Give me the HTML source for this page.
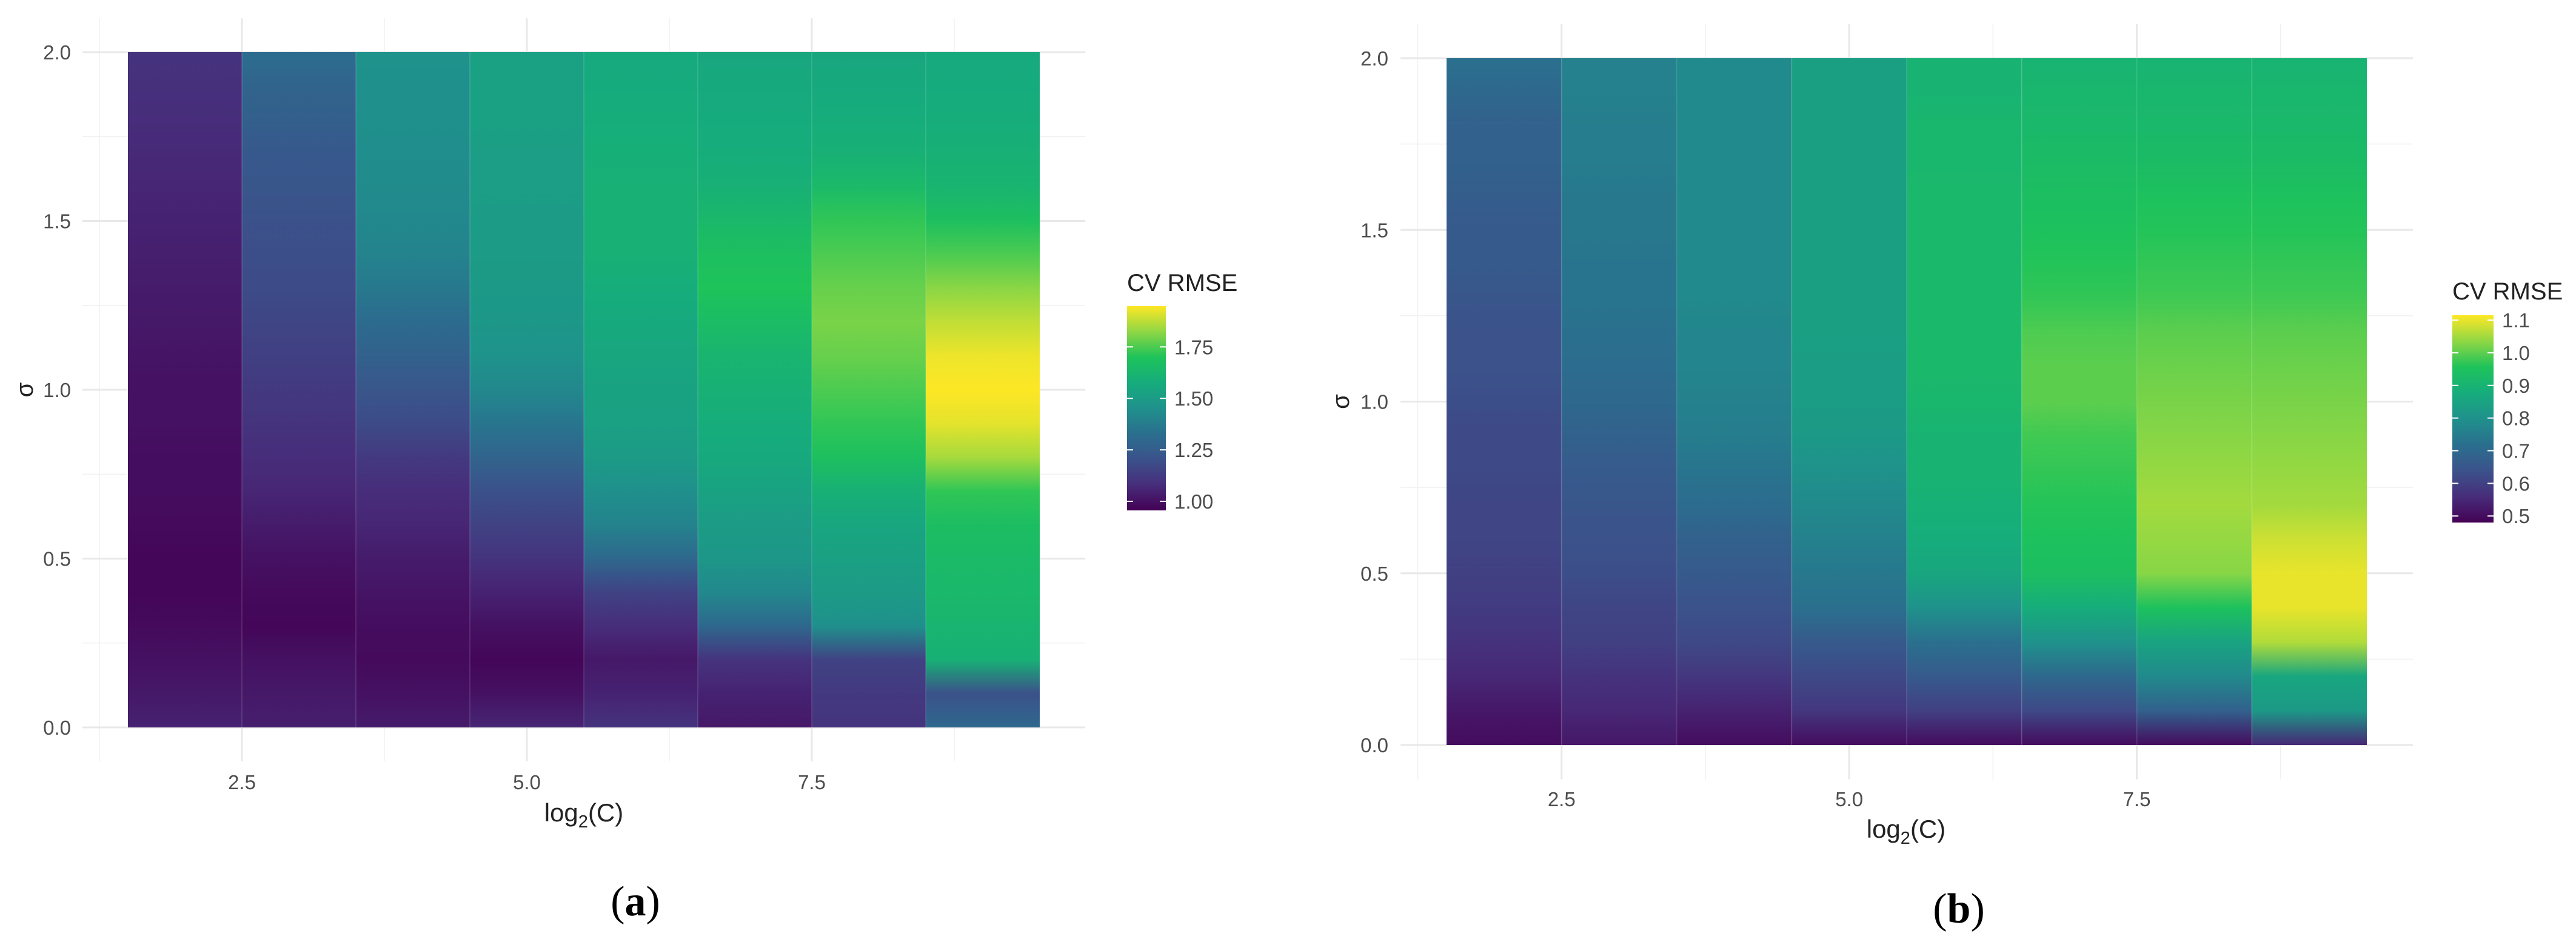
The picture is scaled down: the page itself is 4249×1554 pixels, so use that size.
<!DOCTYPE html>
<html><head><meta charset="utf-8">
<style>
html,body{margin:0;padding:0;background:#fff;}
svg{display:block;}
text{font-family:"Liberation Sans",sans-serif;}
</style></head>
<body>
<svg id="fig" width="4249" height="1554" viewBox="0 0 4249 1554" xmlns="http://www.w3.org/2000/svg"></svg>
<script>
// ---------- data ----------
const log2C = [2,3,4,5,6,7,8,9];
const sigmaGrid = [0,0.1,0.2,0.3,0.4,0.5,0.6,0.7,0.8,0.9,1.0,1.1,1.2,1.3,1.4,1.5,1.6,1.7,1.8,1.9,2.0];
const xTicks = [2.5,5.0,7.5];
const xTickLabels = ["2.5","5.0","7.5"];
const yTicks = [0,0.5,1.0,1.5,2.0];
const yTickLabels = ["0.0","0.5","1.0","1.5","2.0"];
// panel (a): CV RMSE per log2(C) column, sigma 0 -> 2
const rmseA = [
 [1.05,1.02,1.0,0.98,0.97,0.97,0.98,0.99,0.99,1.0,1.0,1.01,1.02,1.03,1.04,1.05,1.06,1.07,1.08,1.09,1.10],
 [1.04,1.02,1.0,0.97,0.98,1.0,1.03,1.06,1.08,1.1,1.12,1.14,1.16,1.18,1.19,1.2,1.22,1.23,1.26,1.28,1.32],
 [1.03,1.0,0.98,0.99,1.01,1.03,1.06,1.08,1.12,1.18,1.22,1.27,1.31,1.36,1.4,1.42,1.43,1.44,1.45,1.45,1.46],
 [1.06,1.0,0.97,1.0,1.05,1.1,1.15,1.2,1.28,1.35,1.42,1.46,1.48,1.49,1.5,1.5,1.51,1.51,1.52,1.52,1.52],
 [1.1,1.05,1.02,1.08,1.15,1.3,1.4,1.45,1.5,1.52,1.53,1.55,1.56,1.58,1.6,1.6,1.6,1.59,1.58,1.57,1.56],
 [1.02,1.05,1.1,1.3,1.42,1.48,1.5,1.53,1.56,1.58,1.6,1.62,1.66,1.7,1.68,1.64,1.6,1.58,1.57,1.56,1.55],
 [1.1,1.12,1.15,1.45,1.5,1.52,1.55,1.6,1.68,1.72,1.75,1.78,1.8,1.78,1.75,1.72,1.65,1.6,1.58,1.56,1.55],
 [1.3,1.2,1.6,1.62,1.64,1.65,1.67,1.72,1.85,1.92,1.95,1.93,1.88,1.82,1.75,1.68,1.62,1.6,1.58,1.57,1.56]
];
const legendA = [1.00,1.25,1.50,1.75];
const legendALabels = ["1.00","1.25","1.50","1.75"];
const rangeA = [0.956,1.948];
// panel (b)
const rmseB = [
 [0.5,0.52,0.55,0.57,0.59,0.6,0.61,0.61,0.62,0.62,0.63,0.64,0.64,0.65,0.66,0.66,0.67,0.68,0.68,0.7,0.72],
 [0.52,0.55,0.57,0.6,0.61,0.63,0.64,0.65,0.66,0.68,0.7,0.71,0.72,0.73,0.73,0.74,0.74,0.75,0.75,0.76,0.76],
 [0.5,0.54,0.58,0.62,0.64,0.66,0.68,0.71,0.73,0.75,0.76,0.77,0.77,0.78,0.78,0.78,0.78,0.78,0.78,0.78,0.78],
 [0.5,0.58,0.62,0.66,0.72,0.74,0.76,0.78,0.8,0.82,0.83,0.83,0.84,0.84,0.84,0.84,0.84,0.84,0.84,0.84,0.84],
 [0.5,0.6,0.66,0.72,0.8,0.86,0.88,0.89,0.9,0.9,0.91,0.92,0.92,0.92,0.92,0.92,0.92,0.91,0.91,0.9,0.9],
 [0.5,0.62,0.7,0.8,0.88,0.94,0.95,0.96,0.97,0.98,1.0,1.0,0.99,0.97,0.96,0.95,0.94,0.93,0.92,0.91,0.9],
 [0.5,0.68,0.78,0.85,0.95,1.03,1.04,1.05,1.04,1.03,1.02,1.01,1.0,0.98,0.97,0.96,0.95,0.93,0.92,0.91,0.9],
 [0.55,0.82,0.86,1.06,1.1,1.1,1.08,1.05,1.04,1.03,1.02,1.01,1.0,0.98,0.97,0.96,0.95,0.93,0.92,0.91,0.9]
];
const legendB = [0.5,0.6,0.7,0.8,0.9,1.0,1.1];
const legendBLabels = ["0.5","0.6","0.7","0.8","0.9","1.0","1.1"];
const rangeB = [0.48,1.115];

// ---------- rendering ----------
const NS = "http://www.w3.org/2000/svg";
const svg = document.getElementById('fig');
const VIR = ["#440154","#472d7b","#3b528b","#2a6f8e","#1f918c","#16ac7c","#1ec35a","#8fd744","#fde725"];
function hex(h){return [parseInt(h.substr(1,2),16),parseInt(h.substr(3,2),16),parseInt(h.substr(5,2),16)];}
function viridis(t){
  t=Math.max(0,Math.min(1,t));
  const p=t*(VIR.length-1), i=Math.min(Math.floor(p),VIR.length-2), f=p-i;
  const a=hex(VIR[i]), b=hex(VIR[i+1]);
  return "rgb("+a.map((v,k)=>Math.round(v+(b[k]-v)*f)).join(",")+")";
}
function mk(tag, attrs, parent){
  const e=document.createElementNS(NS,tag);
  for(const k in attrs) e.setAttribute(k,attrs[k]);
  (parent||svg).appendChild(e);
  return e;
}
let gid=0;
function drawPanel(cfg){
  const g=mk('g',{});
  
  
  const xs=v=>cfg.px0+(v-1.5)*cfg.unit;
  const ys=v=>cfg.py0-(v)*(cfg.py0-cfg.py2)/2;
  const pl=xs(1.1), pr=xs(9.9), pt=ys(2.1), pb=ys(-0.1);
  const minorX=[1.25,3.75,6.25,8.75], minorY=[0.25,0.75,1.25,1.75];
  minorX.forEach(v=>{const l=mk('line',{x1:xs(v),x2:xs(v),y1:pt,y2:pb,stroke:'#f0f0f0','stroke-width':1.5},g);
    });
  minorY.forEach(v=>{const l=mk('line',{x1:pl,x2:pr,y1:ys(v),y2:ys(v),stroke:'#f0f0f0','stroke-width':1.5},g);
    });
  xTicks.forEach(v=>{const l=mk('line',{x1:xs(v),x2:xs(v),y1:pt,y2:pb,stroke:'#e8e8e8','stroke-width':3},g);
    });
  yTicks.forEach(v=>{const l=mk('line',{x1:pl,x2:pr,y1:ys(v),y2:ys(v),stroke:'#e8e8e8','stroke-width':3},g);
    });
  const defs=mk('defs',{},g);
  const lo=cfg.range[0], hi=cfg.range[1];
  log2C.forEach((c,ci)=>{
    const id='gr'+(gid++);
    const lg=mk('linearGradient',{id:id,x1:0,y1:1,x2:0,y2:0},defs);
    sigmaGrid.forEach((s,si)=>{
      mk('stop',{offset:(s/2),'stop-color':viridis((cfg.vals[ci][si]-lo)/(hi-lo))},lg);
    });
    const r=mk('rect',{x:xs(c-0.5),y:ys(2),width:cfg.unit,height:ys(0)-ys(2),fill:'url(#'+id+')'},g);
    
    
    if(ci>0){const l=mk('line',{x1:xs(c-0.5),x2:xs(c-0.5),y1:ys(2),y2:ys(0),stroke:'rgba(255,255,255,0.12)','stroke-width':2},g);
      }
  });
  xTicks.forEach((v,i)=>{const t=mk('text',{x:xs(v),y:cfg.xtickY,'font-size':33,fill:'#4d4d4d','text-anchor':'middle'},g);
    t.textContent=xTickLabels[i];});
  yTicks.forEach((v,i)=>{const t=mk('text',{x:cfg.ytickX,y:ys(v)+12,'font-size':33,fill:'#4d4d4d','text-anchor':'end'},g);
    t.textContent=yTickLabels[i];});
  const xt=mk('text',{x:cfg.xtitleX,y:cfg.xtitleY,'font-size':42,fill:'#222','text-anchor':'middle'},g);
  xt.innerHTML='log<tspan font-size="29" dy="10">2</tspan><tspan dy="-10">(C)</tspan>';
  
  const yt=mk('text',{x:0,y:0,'font-size':40,fill:'#222','text-anchor':'middle',transform:'translate('+(cfg.sigmaX)+','+ys(1)+') rotate(-90)'},g);
  yt.textContent='σ';
  const lgd=mk('g',{},g);
  
  const lt=mk('text',{x:cfg.legX,y:cfg.legTitleY,'font-size':40,fill:'#222'},lgd);
  lt.textContent='CV RMSE';
  const lid='lg'+(gid++);
  const lgr=mk('linearGradient',{id:lid,x1:0,y1:1,x2:0,y2:0},defs);
  for(let k=0;k<=16;k++) mk('stop',{offset:k/16,'stop-color':viridis(k/16)},lgr);
  const bar=mk('rect',{x:cfg.legX,y:cfg.barTop,width:cfg.barW,height:cfg.barBot-cfg.barTop,fill:'url(#'+lid+')'},lgd);
  
  const lys=v=>cfg.barBot-(v-lo)/(hi-lo)*(cfg.barBot-cfg.barTop);
  cfg.legVals.forEach((v,i)=>{
    const y=lys(v);
    mk('line',{x1:cfg.legX,x2:cfg.legX+10,y1:y,y2:y,stroke:'#fff','stroke-width':2},lgd);
    mk('line',{x1:cfg.legX+cfg.barW-10,x2:cfg.legX+cfg.barW,y1:y,y2:y,stroke:'#fff','stroke-width':2},lgd);
    const t=mk('text',{x:cfg.legX+cfg.barW+14,y:y+12,'font-size':33,fill:'#4d4d4d'},lgd);
    t.textContent=cfg.legLabels[i];
  });
  const cap=mk('text',{x:cfg.capX,y:cfg.capY,'font-size':70,fill:'#000','text-anchor':'middle',style:'font-family:"Liberation Serif",serif'},g);
  cap.innerHTML='(<tspan font-weight="bold">'+cfg.cap+'</tspan>)';
  
}
drawPanel({name:'heatmap-panel-a',vals:rmseA,range:rangeA,px0:211,unit:188,py0:1200,py2:86,
  xtickY:1302,ytickX:117,xtitleX:963,xtitleY:1355,sigmaX:54,
  legX:1859,legTitleY:480,barTop:505,barBot:842,barW:64,legVals:legendA,legLabels:legendALabels,
  capX:1048,capY:1510,cap:'a'});
drawPanel({name:'heatmap-panel-b',vals:rmseB,range:rangeB,px0:2386,unit:189.75,py0:1229,py2:96,
  xtickY:1330,ytickX:2290,xtitleX:3144,xtitleY:1382,sigmaX:2225,
  legX:4045,legTitleY:494,barTop:520,barBot:862,barW:68,legVals:legendB,legLabels:legendBLabels,
  capX:3231,capY:1522,cap:'b'});
</script>
</body></html>
